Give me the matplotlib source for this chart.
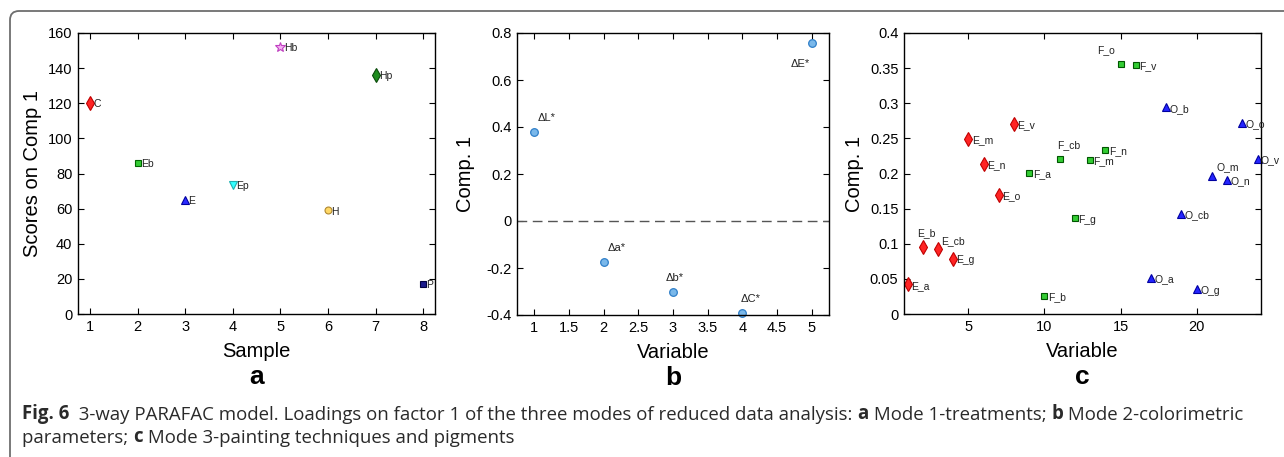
import matplotlib
matplotlib.use("Agg")
import matplotlib.pyplot as plt
from matplotlib.patches import FancyBboxPatch
from matplotlib.transforms import IdentityTransform
from matplotlib.ticker import FuncFormatter
from matplotlib.text import Annotation

plt.rcParams['font.family'] = ['Liberation Sans', 'DejaVu Sans']
plt.rcParams['axes.unicode_minus'] = False

# ---------------- data ----------------
# Panel a: scores on component 1 (samples)
a_samples = [1, 2, 3, 4, 5, 6, 7, 8]
a_names = ['C', 'Eb', 'E', 'Ep', 'Hb', 'H', 'Hp', 'P']
a_scores = [120, 86, 65, 73.5, 152, 59, 136, 17]
a_markers = ['d', 's', '^', 'v', '*', 'o', 'd', 's']
a_face = ['#ff2424', '#33cc33', '#2a2aff', '#33ffff', '#f4b0f4', '#ffd866', '#1e8c1e', '#1a1a8c']
a_edge = ['#c00000', '#006600', '#0000a0', '#20b0b0', '#c040c0', '#b08830', '#0a4a0a', '#000040']
a_size = [7.5, 4.5, 6, 6, 7.5, 5, 7.5, 4.5]

# Panel b: colorimetric parameters
b_vars = [1, 2, 3, 4, 5]
b_names = ['\u0394L*', '\u0394a*', '\u0394b*', '\u0394C*', '\u0394E*']
b_load = [0.38, -0.175, -0.302, -0.39, 0.757]

# Panel c: painting techniques and pigments
c_vars = list(range(1, 25))
c_names = ['E_a', 'E_b', 'E_cb', 'E_g', 'E_m', 'E_n', 'E_o', 'E_v',
           'F_a', 'F_b', 'F_cb', 'F_g', 'F_m', 'F_n', 'F_o', 'F_v',
           'O_a', 'O_b', 'O_cb', 'O_g', 'O_m', 'O_n', 'O_o', 'O_v']
c_load = [0.042, 0.095, 0.092, 0.079, 0.249, 0.213, 0.170, 0.271,
          0.201, 0.025, 0.221, 0.136, 0.219, 0.233, 0.356, 0.355,
          0.051, 0.294, 0.143, 0.035, 0.197, 0.191, 0.272, 0.221]
c_group = ['E'] * 8 + ['F'] * 8 + ['O'] * 8

# ---------------- figure ----------------
W, H = 1284, 457
fig = plt.figure(figsize=(W / 100, H / 100), dpi=100)

frame = FancyBboxPatch((10, -30), 1320, H - 11 + 30,
                       boxstyle="round,pad=0,rounding_size=9",
                       transform=IdentityTransform(), facecolor='none',
                       edgecolor='#6e6e6e', linewidth=1.3)
fig.patches.append(frame)


def px_axes(left, top, right, bottom):
    return fig.add_axes([left / W, 1 - bottom / H, (right - left) / W, (bottom - top) / H])


def style(ax):
    ax.tick_params(direction='in', top=True, right=True, length=4, width=0.8,
                   labelsize=10.5, pad=4)
    for s in ax.spines.values():
        s.set_linewidth(1.0)


gfmt = FuncFormatter(lambda v, p: '%g' % round(v, 4))

# ---- panel a ----
axa = px_axes(78, 33, 435, 314)
for x, y, n, m, fc, ec, ms in zip(a_samples, a_scores, a_names, a_markers, a_face, a_edge, a_size):
    axa.plot(x, y, marker=m, ms=ms, mfc=fc, mec=ec, mew=0.8, ls='none', clip_on=False)
    axa.annotate(n, (x, y), xytext=(2.5, -3), textcoords='offset points', fontsize=7.5,
                 color='#222222')
axa.set_xlim(0.75, 8.25)
axa.set_ylim(0, 160)
axa.set_xticks(range(1, 9))
axa.set_yticks(range(0, 161, 20))
style(axa)
axa.set_xlabel('Sample', fontsize=14.5)
axa.set_ylabel('Scores on Comp 1', fontsize=14.5)
axa.xaxis.set_label_coords(0.5, -0.1)
axa.yaxis.set_label_coords(-0.1, 0.5)
axa.text(0.5, -0.225, 'a', transform=axa.transAxes, ha='center', va='center',
         fontsize=19, fontweight='bold')

# ---- panel b ----
axb = px_axes(517, 33, 829, 315)
axb.axhline(0, color='#555555', lw=1.0, ls=(0, (7, 4)))
axb.plot(b_vars, b_load, 'o', ms=5.5, mfc='#7ab8ea', mec='#2f7fc8', mew=0.9, ls='none',
         clip_on=False)
b_off = [(2.5, 8), (2.5, 8), (-5, 8), (-1, 8), (-15, -17)]
for x, y, n, o in zip(b_vars, b_load, b_names, b_off):
    axb.annotate(n, (x, y), xytext=o, textcoords='offset points', fontsize=8,
                 color='#222222')
axb.set_xlim(0.75, 5.25)
axb.set_ylim(-0.4, 0.8)
axb.set_xticks([1, 1.5, 2, 2.5, 3, 3.5, 4, 4.5, 5])
axb.set_yticks([-0.4, -0.2, 0, 0.2, 0.4, 0.6, 0.8])
axb.xaxis.set_major_formatter(gfmt)
axb.yaxis.set_major_formatter(gfmt)
style(axb)
axb.set_xlabel('Variable', fontsize=14.5)
axb.set_ylabel('Comp. 1', fontsize=14.5)
axb.xaxis.set_label_coords(0.5, -0.1)
axb.yaxis.set_label_coords(-0.135, 0.5)
axb.text(0.5, -0.225, 'b', transform=axb.transAxes, ha='center', va='center',
         fontsize=19, fontweight='bold')

# ---- panel c ----
axc = px_axes(904, 33, 1261, 314)
gstyle = {'E': ('d', '#ff2424', '#c00000', 7),
          'F': ('s', '#33cc33', '#005500', 4.2),
          'O': ('^', '#2424ff', '#0000a0', 6)}
c_off = {'E_b': (-4, 8), 'E_cb': (2, 4), 'F_cb': (-2, 8), 'F_o': (-17, 8), 'O_m': (3, 4)}
for x, y, n, g in zip(c_vars, c_load, c_names, c_group):
    m, fc, ec, ms = gstyle[g]
    axc.plot(x, y, marker=m, ms=ms, mfc=fc, mec=ec, mew=0.8, ls='none', clip_on=False)
    o = c_off.get(n, (2.5, -3))
    axc.annotate(n, (x, y), xytext=o, textcoords='offset points', fontsize=7.5,
                 color='#222222')
axc.set_xlim(0.77, 24.23)
axc.set_ylim(0, 0.4)
axc.set_xticks([5, 10, 15, 20])
axc.set_yticks([0, 0.05, 0.1, 0.15, 0.2, 0.25, 0.3, 0.35, 0.4])
axc.yaxis.set_major_formatter(gfmt)
style(axc)
axc.set_xlabel('Variable', fontsize=14.5)
axc.set_ylabel('Comp. 1', fontsize=14.5)
axc.xaxis.set_label_coords(0.5, -0.1)
axc.yaxis.set_label_coords(-0.112, 0.5)
axc.text(0.5, -0.225, 'c', transform=axc.transAxes, ha='center', va='center',
         fontsize=19, fontweight='bold')

# ---- caption ----
cap_font = ['Open Sans', 'DejaVu Sans']
cap_size = 13.4
cap_color = '#2a2a2a'
line1 = [('Fig. 6', 'bold'),
         ('  3-way PARAFAC model. Loadings on factor 1 of the three modes of reduced data analysis: ', 'normal'),
         ('a', 'bold'), (' Mode 1-treatments; ', 'normal'), ('b', 'bold'),
         (' Mode 2-colorimetric', 'normal')]
line2 = [('parameters; ', 'normal'), ('c', 'bold'),
         (' Mode 3-painting techniques and pigments', 'normal')]


def chain(parts, x, y):
    t = fig.text(x / W, 1 - y / H, parts[0][0], fontsize=cap_size, fontweight=parts[0][1],
                 family=cap_font, color=cap_color, va='baseline')
    for s, w in parts[1:]:
        t = fig.add_artist(Annotation(
            s, xy=(1, 0), xycoords=t, va='bottom', ha='left', fontsize=cap_size,
            fontweight=w, family=cap_font, color=cap_color))


chain(line1, 22, 419)
chain(line2, 22, 443)

fig.savefig('out.png', dpi=100)
